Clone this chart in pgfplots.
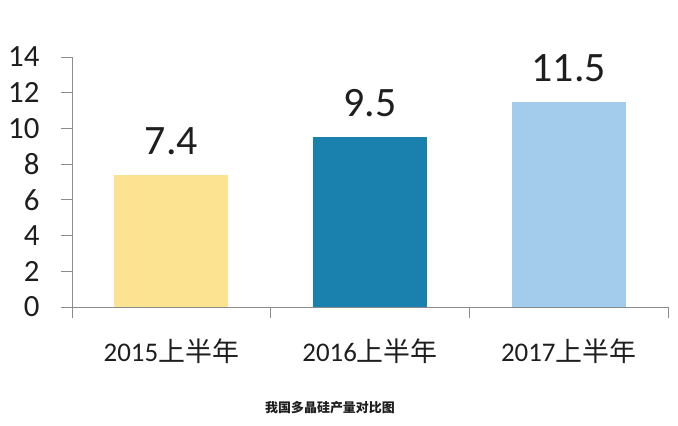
\documentclass[border=0pt]{standalone}
\usepackage{fontspec}
\setmainfont{Carlito}
\newfontfamily\cjk{Noto Sans CJK SC}
\usepackage{pgfplots}
\pgfplotsset{compat=1.18}
\definecolor{cyel}{RGB}{252,227,145}
\definecolor{cteal}{RGB}{26,128,174}
\definecolor{clblue}{RGB}{163,204,236}
\definecolor{caxis}{RGB}{140,140,140}
\definecolor{ctext}{RGB}{30,30,30}
\begin{document}
\begin{tikzpicture}
\useasboundingbox (0,0) rectangle (678bp,426bp);
\begin{axis}[
  at={(72bp,119bp)}, anchor=south west,
  scale only axis, width=596bp, height=250bp,
  xmin=-0.5, xmax=2.5, ymin=0, ymax=14,
  axis x line=bottom, axis y line=left,
  axis line style={-, draw=caxis, line width=0.8bp},
  tick align=outside,
  ytick={0,2,...,14},
  major tick length=11bp, minor tick length=11bp,
  ytick style={draw=caxis, line width=0.8bp},
  xtick={0,1,2},
  major x tick style={draw=none},
  minor xtick={-0.5,0.5,1.5,2.5},
  minor x tick style={draw=caxis, line width=0.8bp},
  xticklabels={2015{\cjk 上半年},2016{\cjk 上半年},2017{\cjk 上半年}},
  /pgf/number format/assume math mode=true,
  yticklabel style={font=\fontsize{31}{31}\selectfont, text=ctext, xshift=-18bp},
  xticklabel style={font=\fontsize{27}{27}\selectfont, text=ctext, yshift=-17bp},
  ybar, bar width=114bp,
  point meta=explicit symbolic,
  nodes near coords,
  every node near coord/.style={font=\fontsize{42}{42}\selectfont, text=ctext, anchor=south, inner sep=0pt, yshift=20bp},
]
\addplot[fill=cyel, draw=none, bar shift=0pt] coordinates {(0,7.4) [7.4]};
\addplot[fill=cteal, draw=none, bar shift=0pt] coordinates {(1,9.5) [9.5]};
\addplot[fill=clblue, draw=none, bar shift=0pt] coordinates {(2,11.5) [11.5]};
\end{axis}
\node[font=\cjk\bfseries\fontsize{13}{13}\selectfont, text=ctext] at (330bp,18bp) {我国多晶硅产量对比图};
\end{tikzpicture}
\end{document}
